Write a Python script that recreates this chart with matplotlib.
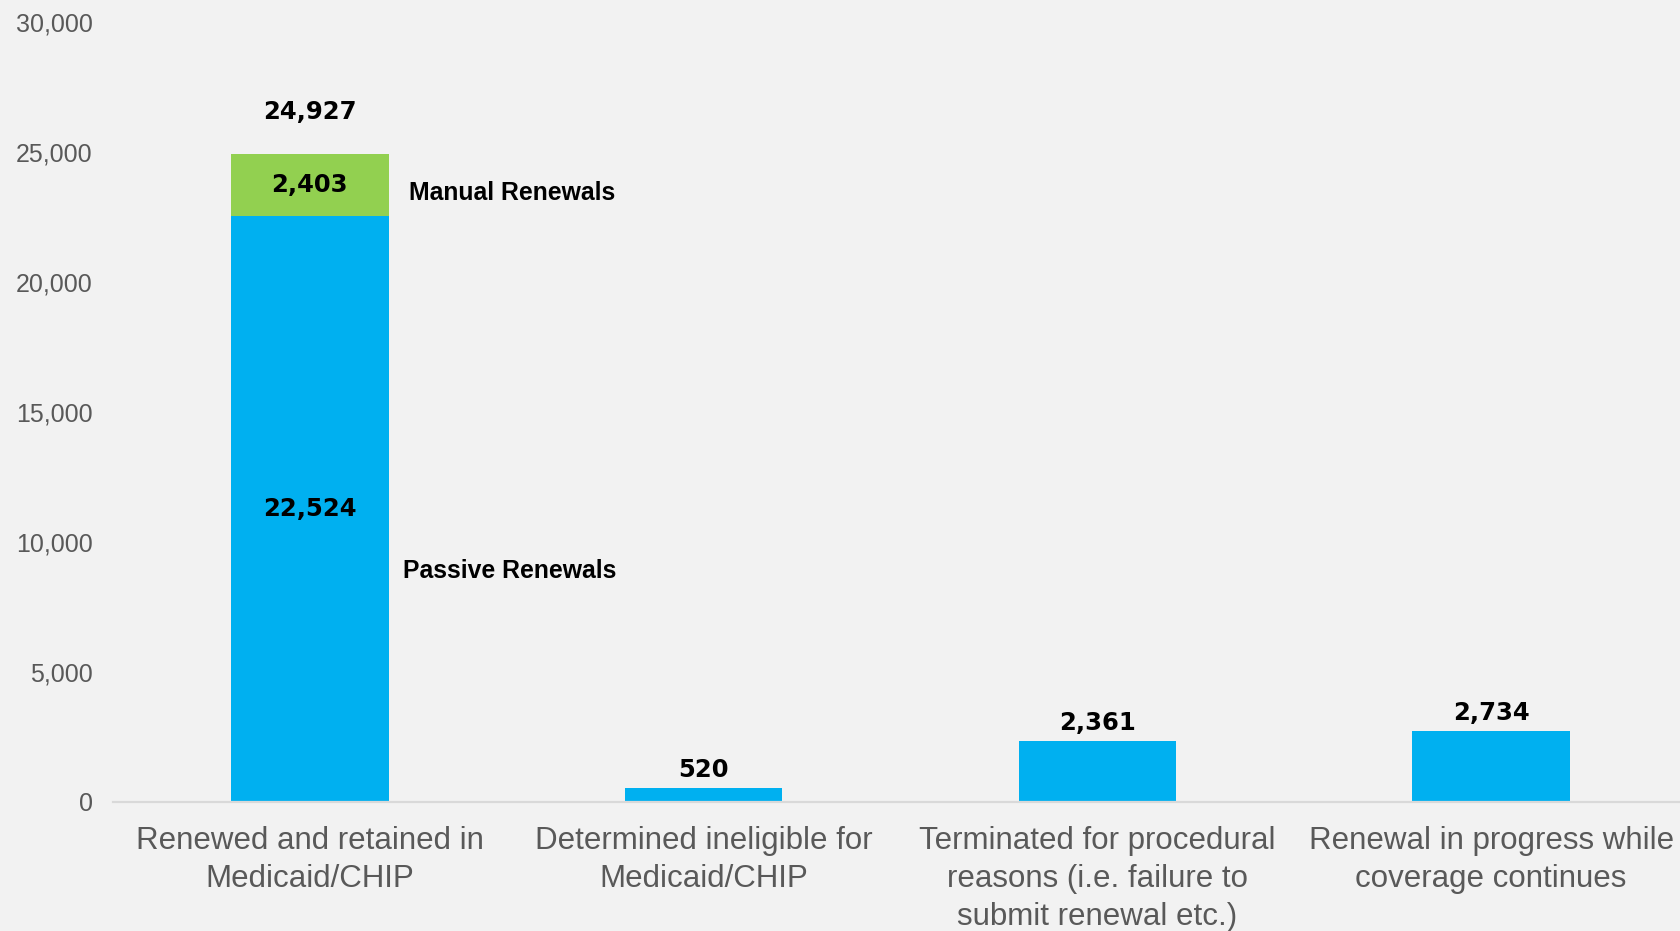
import matplotlib.pyplot as plt
import numpy as np

# Medicaid/CHIP renewal outcomes
categories = [
    "Renewed and retained in\nMedicaid/CHIP",
    "Determined ineligible for\nMedicaid/CHIP",
    "Terminated for procedural\nreasons (i.e. failure to\nsubmit renewal etc.)",
    "Renewal in progress while\ncoverage continues",
]
passive = [22524, 520, 2361, 2734]   # blue segment (passive renewals / single bars)
manual = [2403, 0, 0, 0]             # green segment on top of the first bar
yticks = [0, 5000, 10000, 15000, 20000, 25000, 30000]

BLUE = "#00B0F0"
GREEN = "#92D050"
BG = "#F2F2F2"
GRAY = "#595959"

fig = plt.figure(figsize=(16.81, 9.31), dpi=100, facecolor=BG)
ax = fig.add_axes([0.0672, 0.1386, 0.937, 0.8378], facecolor=BG)

x = np.arange(len(categories))
width = 0.40
passive = np.array(passive)
manual = np.array(manual)
totals = passive + manual

ax.bar(x, passive, width, color=BLUE, zorder=2)
ax.bar(x[:1], manual[:1], width, bottom=passive[:1], color=GREEN, zorder=2)

num_font = dict(family="DejaVu Sans", fontweight="bold", fontsize=17.5, color="black")

# segment labels inside the stacked bar
ax.text(x[0], passive[0] / 2, f"{passive[0]:,}", ha="center", va="center", **num_font)
ax.text(x[0], passive[0] + manual[0] / 2, f"{manual[0]:,}", ha="center", va="center", **num_font)

# total on top of the stacked bar
ax.annotate(f"{totals[0]:,}", (x[0], totals[0]), xytext=(0, 30), textcoords="offset points",
            ha="center", va="center", **num_font)

# values above the single bars
for xi, v in zip(x[1:], passive[1:]):
    ax.annotate(f"{v:,}", (xi, v), xytext=(0, 13), textcoords="offset points",
                ha="center", va="center", **num_font)

# series names to the right of the first bar
series_font = dict(family="Liberation Sans", fontweight="bold", fontsize=17.8, color="black")
ax.text(x[0] + width / 2 + 0.053, passive[0] + manual[0] * 0.38, "Manual Renewals",
        ha="left", va="center", **series_font)
ax.text(x[0] + width / 2 + 0.036, passive[0] * 0.395, "Passive Renewals",
        ha="left", va="center", **series_font)

ax.set_xlim(-0.5, 3.5)
ax.set_ylim(0, 30000)
ax.set_yticks(yticks)
ax.set_yticklabels([f"{t:,}" for t in yticks], family="Liberation Sans", fontsize=18, color=GRAY)
ax.set_xticks(x)
ax.set_xticklabels(categories, family="Liberation Sans", fontsize=22.5, color=GRAY,
                   linespacing=1.36)
ax.tick_params(axis="y", length=0, pad=14.5)
ax.tick_params(axis="x", length=0, pad=17)

for side in ["top", "right", "left"]:
    ax.spines[side].set_visible(False)
ax.spines["bottom"].set_color("#D9D9D9")
ax.spines["bottom"].set_linewidth(1.6)
ax.spines["bottom"].set_zorder(3)

fig.savefig("out.png", dpi=100, facecolor=BG)
